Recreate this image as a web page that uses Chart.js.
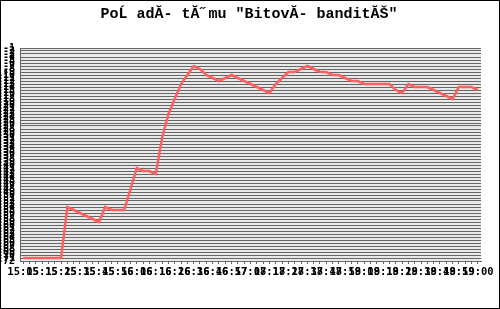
<!DOCTYPE html>
<html>
<head>
<meta charset="utf-8">
<script src="https://cdn.jsdelivr.net/npm/chart.js@4/dist/chart.umd.min.js"></script>
<style>
html, body { margin: 0; padding: 0; background: #fff; }
#wrap { width: 500px; height: 309px; }
</style>
</head>
<body>
<div id="wrap"><canvas id="graf" width="500" height="309"></canvas></div>
<script>
// nadpis tak, jak je v obrazku (spatne kodovani)
const nadpis = 'PoĹ adĂ- tĂ˝mu "BitovĂ- banditĂŠ"';

// popisky casu - kazdy treti bod
const casy = [
    "15:05", "15:15", "15:25", "15:35", "15:45", "15:56",
    "16:06", "16:16", "16:26", "16:36", "16:46", "16:57",
    "17:08", "17:18", "17:28", "17:38", "17:48", "17:59",
    "18:09", "18:19", "18:29", "18:39", "18:49", "18:59",
    "19:00"
];
const krokPopisku = 3;

// poradi tymu v jednotlivych bodech (zaporne, aby lepsi bylo nahore)
const poradi = [
    -71, -71, -71, -71, -71, -71, -71,
    -54, -55, -56, -57, -58, -59,
    -54, -55, -55, -55,
    -48, -41, -42, -42, -43,
    -31, -23, -18, -13, -10, -7,
    -8, -10, -11, -12,
    -11, -10,
    -11, -12, -13, -14, -15, -16,
    -13, -11, -9, -9, -8, -7,
    -8, -9, -9, -10, -10, -11, -12, -12, -13, -13, -13, -13, -13,
    -15, -16, -13, -14, -14, -14, -15, -16, -17, -18, -14, -14, -14, -15
];
const osaMin = -72;
const osaMax = -1;

// kategorie pro osu x
const kategorie = poradi.map((p, i) => i % krokPopisku === 0 ? (casy[i / krokPopisku] || "") : "");

const pozadi = {
    id: "pozadi",
    beforeDraw(chart) {
        const c = chart.ctx, a = chart.chartArea;
        c.save();
        c.fillStyle = "#fff";
        c.fillRect(0, 0, chart.width, chart.height);
        c.fillStyle = "#e9e9e9";
        c.fillRect(a.left, a.top, a.right - a.left, a.bottom - a.top);
        c.restore();
    },
    afterDraw(chart) {
        const c = chart.ctx;
        c.save();
        c.strokeStyle = "#000";
        c.lineWidth = 1;
        c.strokeRect(0.5, 0.5, chart.width - 1, chart.height - 1);
        c.fillStyle = "#000";
        c.font = "bold 15px 'Liberation Mono'";
        c.textAlign = "center";
        c.textBaseline = "alphabetic";
        c.fillText(nadpis, 249, 18);
        c.restore();
    }
};

const ctx = document.getElementById("graf").getContext("2d");
new Chart(ctx, {
    type: "line",
    data: {
        labels: kategorie,
        datasets: [{
            data: poradi,
            borderColor: "#ff5f5f",
            borderWidth: 2.5,
            pointRadius: 0,
            tension: 0,
            fill: false
        }]
    },
    options: {
        responsive: false,
        animation: false,
        devicePixelRatio: 1,
        layout: { padding: { left: 0, right: 19, top: 48, bottom: 0 } },
        plugins: {
            legend: { display: false },
            title: { display: false },
            tooltip: { enabled: false }
        },
        scales: {
            x: {
                type: "category",
                offset: true,
                afterFit: s => { s.height = 48; },
                grid: { drawOnChartArea: false, drawTicks: true, tickLength: 3, color: "#666", offset: false },
                border: { color: "#666" },
                ticks: {
                    autoSkip: false, maxRotation: 0, minRotation: 0, padding: 2,
                    color: "#000", font: { family: "DejaVu Sans Mono", size: 10.5, weight: "bold" }
                }
            },
            y: {
                type: "linear",
                min: osaMin,
                max: osaMax,
                afterFit: s => { s.width = 20; },
                grid: { color: "#666", drawTicks: false },
                border: { color: "#666" },
                ticks: {
                    stepSize: 1, autoSkip: false, padding: 5,
                    color: "#000", font: { family: "DejaVu Sans Mono", size: 10, weight: "bold" }
                }
            }
        }
    },
    plugins: [pozadi]
});
</script>
</body>
</html>
